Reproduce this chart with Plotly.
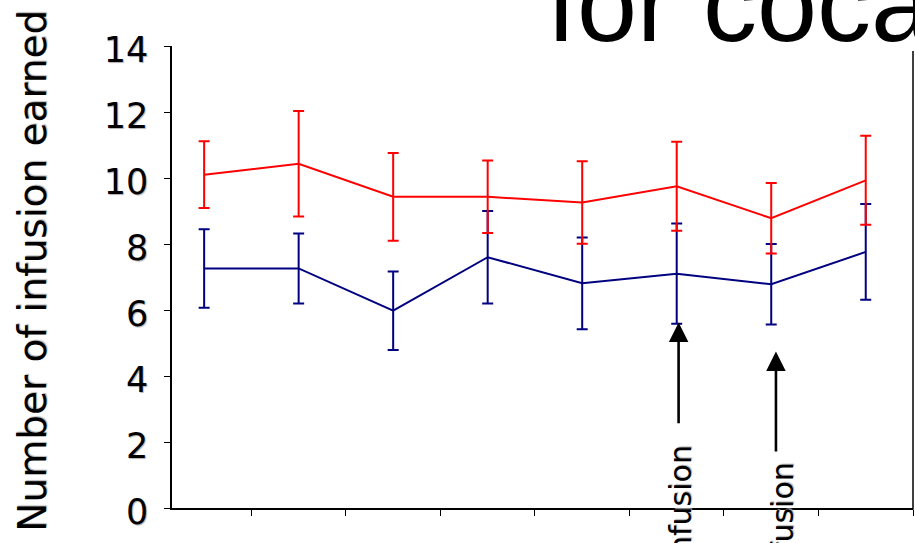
import plotly.graph_objects as go

# Sessions along the x axis and mean infusions earned (± error) for the two groups
sessions = [1, 2, 3, 4, 5, 6, 7, 8]
red_mean = [10.10, 10.43, 9.43, 9.43, 9.26, 9.75, 8.78, 9.93]
red_err = [1.01, 1.60, 1.33, 1.10, 1.25, 1.35, 1.07, 1.35]
blue_mean = [7.26, 7.26, 5.98, 7.60, 6.81, 7.10, 6.78, 7.76]
blue_err = [1.19, 1.06, 1.19, 1.40, 1.39, 1.52, 1.22, 1.45]

y_ticks = [0, 2, 4, 6, 8, 10, 12, 14]
x_ticks = [1.5, 2.5, 3.5, 4.5, 5.5, 6.5, 7.5, 8.5]

# arrow markers: (x, arrow tip, arrow tail, label x, label top in paper units)
arrows = [
    {"x": 6.02, "tip": 5.62, "tail": 2.52, "label_x": 6.04, "label_top": 0.141},
    {"x": 7.05, "tip": 4.74, "tail": 1.67, "label_x": 7.12, "label_top": 0.102},
]
arrow_label = "infusion"

comic = "Comic Sans MS, DejaVu Sans, sans-serif"
shadow = "1px 1px 1px #b0b0b0"

fig = go.Figure()

fig.add_trace(go.Scatter(
    x=sessions, y=blue_mean, mode="lines", name="Group 2",
    line=dict(color="#000080", width=2),
    error_y=dict(type="data", array=blue_err, visible=True,
                 color="#000080", thickness=2, width=5.5),
))
fig.add_trace(go.Scatter(
    x=sessions, y=red_mean, mode="lines", name="Group 1",
    line=dict(color="#FF0000", width=2),
    error_y=dict(type="data", array=red_err, visible=True,
                 color="#FF0000", thickness=2, width=5.5),
))

annotations = []
for a in arrows:
    annotations.append(dict(
        x=a["x"], y=a["tip"], xref="x", yref="y",
        ax=a["x"], ay=a["tail"], axref="x", ayref="y",
        text="", showarrow=True, arrowhead=2, arrowsize=1.5,
        arrowwidth=2.6, arrowcolor="black", standoff=0,
    ))
    annotations.append(dict(
        x=a["label_x"], y=a["label_top"], xref="x", yref="paper",
        text=arrow_label, textangle=-90, showarrow=False,
        xanchor="center", yanchor="top",
        font=dict(family=comic, size=30, color="black", shadow=shadow),
    ))

# y-axis title
annotations.append(dict(
    x=-0.188, y=0.513, xref="paper", yref="paper",
    text="Number of infusion earned", textangle=-90, showarrow=False,
    xanchor="center", yanchor="middle",
    font=dict(family=comic, size=39, color="black", shadow=shadow),
))

# slide heading running above the chart
annotations.append(dict(
    x=0.504, y=0.957, xref="paper", yref="paper",
    text="for cocaine", showarrow=False,
    xanchor="left", yanchor="bottom",
    font=dict(family="Liberation Sans, Arial, sans-serif", size=108, color="black"),
))

fig.update_layout(
    width=915, height=543,
    margin=dict(l=172.3, r=2, t=45.7, b=34.7, pad=0),
    paper_bgcolor="white", plot_bgcolor="white",
    showlegend=False,
    annotations=annotations,
    shapes=[
        # axis of the neighbouring panel at the right edge
        dict(type="line", xref="paper", yref="paper",
             x0=1.0, x1=1.0, y0=-0.004, y1=0.989,
             line=dict(color="black", width=1.5)),
    ],
)

fig.update_xaxes(
    range=[0.66, 8.5], tickvals=x_ticks, showticklabels=False,
    ticks="outside", ticklen=6, tickcolor="black", tickwidth=1.2,
    showline=True, linecolor="black", linewidth=2,
    showgrid=False, zeroline=False,
)
fig.update_yaxes(
    range=[0, 14], tickvals=y_ticks,
    ticks="outside", ticklen=6, tickcolor="black", tickwidth=1.2,
    showline=True, linecolor="black", linewidth=1.5,
    showgrid=False, zeroline=False,
    tickfont=dict(family=comic, size=35, color="black", shadow=shadow),
    ticklabelstandoff=9, ticklabelshift=4,
)

fig.write_html("out.html")
